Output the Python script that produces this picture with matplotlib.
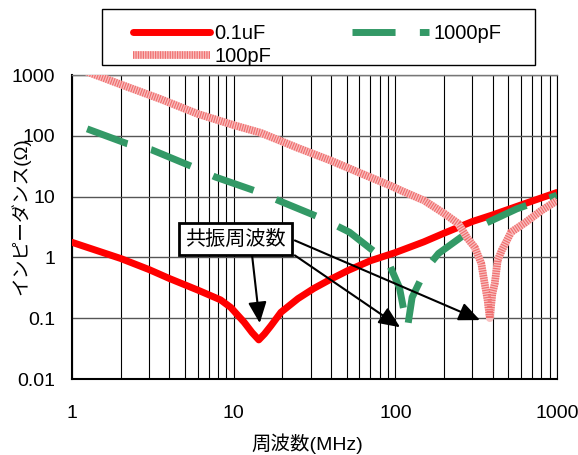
import matplotlib
matplotlib.use('Agg')
import matplotlib.pyplot as plt
from matplotlib.patches import Rectangle
from matplotlib.ticker import FixedLocator, NullLocator, NullFormatter
from matplotlib.legend_handler import HandlerTuple

plt.rcParams['font.family'] = ['Liberation Sans', 'Noto Sans CJK JP']

# ---- data ----
freq_01uF = [1, 2, 3, 4, 6, 8.3, 9.6, 11.6, 13, 14.3, 15.5, 17, 19.6, 25, 31.4, 40, 51, 70, 100, 150, 200, 300, 400, 600, 1000]
z_01uF = [1.77, 0.96, 0.63, 0.45, 0.29, 0.2, 0.15, 0.086, 0.058, 0.044, 0.055, 0.075, 0.125, 0.21, 0.31, 0.44, 0.61, 0.88, 1.2, 1.8, 2.5, 3.9, 5.0, 7.3, 11.7]

freq_1000pF = [1.24, 2.2, 3.1, 5.56, 7.7, 14.1, 19.6, 35, 52, 70, 90.5, 106, 112, 119, 127, 148, 165, 185, 264, 367, 565, 700, 1000]
z_1000pF = [130, 74, 59, 31, 21, 12, 8.3, 4.4, 2.6, 1.4, 0.83, 0.32, 0.15, 0.071, 0.22, 0.51, 0.8, 1.16, 2.3, 3.7, 6.3, 7.7, 10.5]

freq_100pF = [1, 2, 3.5, 6, 10, 14.7, 25, 40, 61.5, 94, 109, 151, 200, 245, 280, 310, 340, 357, 372, 384, 398, 412, 430, 455, 520, 633, 800, 1000]
z_100pF = [1400, 700, 405, 229, 150, 112, 63, 39, 24, 15, 12.5, 8.6, 5.3, 3.6, 2.05, 1.46, 0.8, 0.37, 0.2, 0.1, 0.25, 0.37, 0.9, 1.3, 2.6, 3.7, 5.9, 8.6]

series_labels = ['0.1uF', '1000pF', '100pF']

x_ticks = [1, 10, 100, 1000]
x_tick_labels = ['1', '10', '100', '1000']
y_ticks = [0.01, 0.1, 1, 10, 100, 1000]
y_tick_labels = ['0.01', '0.1', '1', '10', '100', '1000']
x_minor = [m * d for d in (1, 10, 100) for m in range(2, 10)]

# resonance annotation: label position and arrow tips (minima of the curves)
note_text = '共振周波数'
note_pos = (10.3, 2.0)
arrow_starts = [(13.0, 1.08), (23.9, 1.08), (23.9, 1.9)]
arrow_tips = [(14.5, 0.083), (107, 0.071), (334, 0.093)]

# ---- figure ----
W, H = 578, 455
fig = plt.figure(figsize=(W / 100, H / 100), dpi=100)
ax = fig.add_axes([72 / W, 1 - 379 / H, (557 - 72) / W, (379 - 75) / H])
ax.set_xscale('log')
ax.set_yscale('log')
ax.set_xlim(1, 1000)
ax.set_ylim(0.01, 1000)

l1, = ax.plot(freq_01uF, z_01uF, color='#ff0000', lw=5, solid_capstyle='round',
              solid_joinstyle='round', label=series_labels[0], zorder=3)
l2, = ax.plot(freq_1000pF, z_1000pF, color='#339966', lw=5, dashes=(6.2, 3.5),
              dash_capstyle='butt', label=series_labels[1], zorder=4)
l3a, = ax.plot(freq_100pF, z_100pF, color='#f9c0c0', lw=5.5, solid_capstyle='butt',
               solid_joinstyle='round', zorder=5)
l3b, = ax.plot(freq_100pF, z_100pF, color='#f07070', lw=5.5, dashes=(0.16, 0.16),
               dash_capstyle='butt', zorder=5.1)

ax.xaxis.set_major_locator(FixedLocator(x_ticks))
ax.xaxis.set_minor_locator(FixedLocator(x_minor))
ax.xaxis.set_minor_formatter(NullFormatter())
ax.set_xticklabels(x_tick_labels)
ax.yaxis.set_major_locator(FixedLocator(y_ticks))
ax.yaxis.set_minor_locator(NullLocator())
ax.set_yticklabels(y_tick_labels)

ax.grid(which='both', axis='x', color='black', lw=0.8)
ax.grid(which='major', axis='y', color='#555555', lw=1)
ax.set_axisbelow(True)

ax.tick_params(axis='x', which='both', length=0, pad=19, labelsize=14)
ax.tick_params(axis='y', which='both', length=0, pad=12, labelsize=14)

for s in ('left', 'bottom'):
    ax.spines[s].set_color('black')
    ax.spines[s].set_linewidth(1.5)
ax.spines['top'].set_color('#777777')
ax.spines['top'].set_linewidth(1)
ax.spines['right'].set_color('black')
ax.spines['right'].set_linewidth(0.8)

fig.text(20 / W, 1 - 216 / H, 'インピーダンス(Ω)', rotation=90, ha='center', va='center', fontsize=13.5)
fig.text(307 / W, 1 - 444 / H, '周波数(MHz)', ha='center', va='center', fontsize=14)

# legend
fig.add_artist(Rectangle((102 / W, 1 - 65 / H), (535 - 102) / W, (65 - 9) / H,
                         transform=fig.transFigure, fill=False, edgecolor='black', lw=1))
fig.legend([l1, (l3a, l3b), l2], [series_labels[0], series_labels[2], series_labels[1]], ncol=2,
           loc='upper left', bbox_to_anchor=(133 / W, 1 - 24 / H), bbox_transform=fig.transFigure,
           frameon=False, borderpad=0, borderaxespad=0, handlelength=3.8, handletextpad=0.25,
           columnspacing=4.0, labelspacing=0.2, fontsize=14.5,
           handler_map={tuple: HandlerTuple(ndivide=1)})

# annotation
ax.text(note_pos[0], note_pos[1], note_text, ha='center', va='center', fontsize=14.5, zorder=8,
        bbox=dict(boxstyle='square,pad=0.3', fc='white', ec='black', lw=2))
for st, tp in zip(arrow_starts, arrow_tips):
    ax.annotate('', xy=tp, xytext=st, zorder=7,
                arrowprops=dict(arrowstyle='-|>,head_length=0.8,head_width=0.35', color='black',
                                lw=1.5, mutation_scale=16, shrinkA=0, shrinkB=0))

fig.savefig('out.png', dpi=100)
